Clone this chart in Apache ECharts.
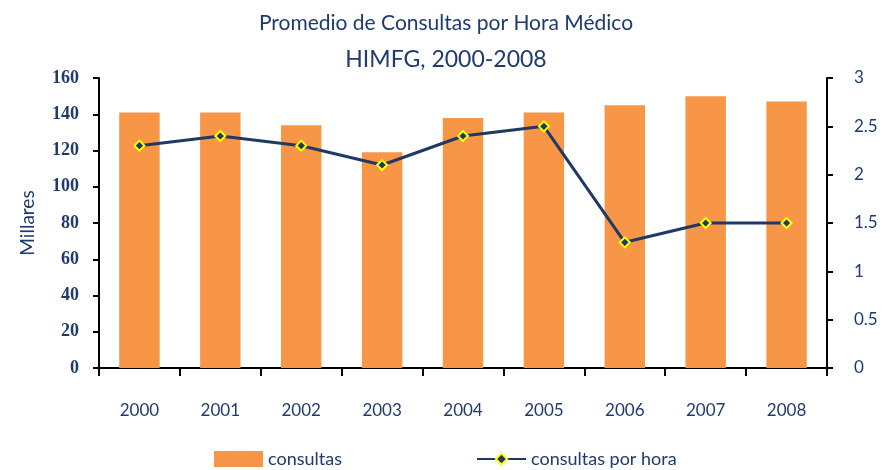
<!DOCTYPE html>
<html>
<head>
<meta charset="utf-8">
<script src="https://cdn.jsdelivr.net/npm/echarts@6/dist/echarts.min.js"></script>
<style>
  html, body { margin: 0; padding: 0; background: #fff; }
  #chart { width: 892px; height: 470px; }
</style>
</head>
<body>
<div id="chart"></div>
<script>
// datos
const years = ['2000', '2001', '2002', '2003', '2004', '2005', '2006', '2007', '2008'];
const consultas = [141, 141, 134, 119, 138, 141, 145, 150, 147];
const consultasPorHora = [2.3, 2.4, 2.3, 2.1, 2.4, 2.5, 1.3, 1.5, 1.5];

const navy = '#1F3864';
const textColor = '#1F3A6E';
const papyrus = 'Lato';

const chart = echarts.init(document.getElementById('chart'));

chart.setOption({
  animation: false,
  title: [
    { text: 'Promedio de Consultas por Hora Médico', left: 'center', top: 8,
      textStyle: { fontFamily: papyrus, fontSize: 21, fontWeight: 'normal', color: textColor } },
    { text: 'HIMFG, 2000-2008', left: 'center', top: 43,
      textStyle: { fontFamily: papyrus, fontSize: 23, fontWeight: 'normal', color: textColor } }
  ],
  legend: [
    { data: ['consultas'], icon: 'rect', left: 214, top: 450, padding: 0, itemGap: 7,
      itemWidth: 49, itemHeight: 16,
      textStyle: { fontFamily: papyrus, fontSize: 18, color: textColor } },
    { data: ['consultas por hora'], left: 476, top: 450, padding: 0,
      itemWidth: 49, itemHeight: 14,
      textStyle: { fontFamily: papyrus, fontSize: 18, color: textColor } }
  ],
  grid: { left: 99, right: 65, top: 78, bottom: 102 },
  xAxis: {
    type: 'category',
    data: years,
    axisLine: { lineStyle: { color: '#000', width: 2 } },
    axisTick: { show: true, length: 8, lineStyle: { color: '#000', width: 2 } },
    axisLabel: { margin: 34, fontFamily: papyrus, fontSize: 17, color: textColor }
  },
  yAxis: [
    {
      type: 'value', min: 0, max: 160, interval: 20,
      name: 'Millares', nameLocation: 'middle', nameGap: 62, nameRotate: 90,
      nameTextStyle: { fontFamily: papyrus, fontSize: 19, color: textColor },
      axisLine: { show: true, lineStyle: { color: '#000', width: 2 } },
      axisTick: { show: true, length: 6, lineStyle: { color: '#000', width: 2 } },
      axisLabel: { fontFamily: 'Liberation Serif', fontWeight: 'bold', fontSize: 18, color: textColor, margin: 20 },
      splitLine: { show: false }
    },
    {
      type: 'value', min: 0, max: 3, interval: 0.5, position: 'right',
      axisLine: { show: true, lineStyle: { color: '#000', width: 2 } },
      axisTick: { show: true, length: 6, lineStyle: { color: '#000', width: 2 } },
      axisLabel: { fontFamily: papyrus, fontSize: 17, color: textColor, margin: 27 },
      splitLine: { show: false }
    }
  ],
  series: [
    {
      name: 'consultas', type: 'bar', data: consultas, barWidth: '50%',
      itemStyle: { color: '#F79646' }
    },
    {
      name: 'consultas por hora', type: 'line', yAxisIndex: 1, data: consultasPorHora,
      symbol: 'diamond', symbolSize: 10,
      lineStyle: { color: navy, width: 3 },
      itemStyle: { color: navy, borderColor: '#FFFF00', borderWidth: 2 }
    }
  ]
});
</script>
</body>
</html>
